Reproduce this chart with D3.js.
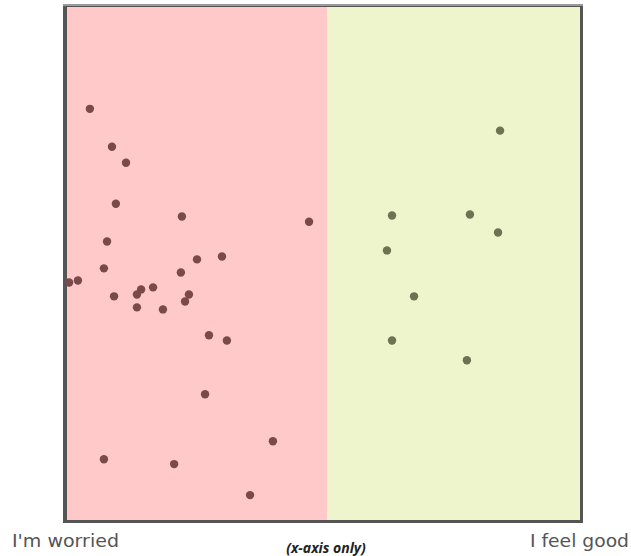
<!DOCTYPE html>
<html>
<head>
<meta charset="utf-8">
<script src="https://cdn.jsdelivr.net/npm/d3@7"></script>
<style>
  html, body { margin: 0; padding: 0; background: #fff; }
  svg { display: block; }
</style>
</head>
<body>
<svg id="chart" width="631" height="556"></svg>
<script>
// Data: x from -100 (worried) to 100 (feel good), y from -100 to 100
const worriedX = [-91.2, -82.7, -77.3, -81.2, -55.8, -6.9, -84.6, -50, -40.4, -85.8, -56.2, -99.2, -95.8, -81.9, -73.1, -71.5, -66.9, -73.1, -63.1, -53.1, -54.6, -45.4, -38.5, -46.9, -20.8, -85.8, -58.8, -29.6];
const worriedY = [60.3, 45.5, 39.3, 23.3, 18.3, 16.3, 8.6, 1.6, 2.7, -1.9, -3.5, -7.4, -6.6, -12.8, -12.1, -10.1, -9.3, -17.1, -17.9, -12.1, -14.8, -28.0, -30.0, -51.0, -69.3, -76.3, -78.2, -90.3];
const goodX = [68.4, 25.7, 56.5, 67.6, 23.7, 34.4, 25.7, 55.3];
const goodY = [51.8, 18.7, 19.1, 12.1, 5.1, -12.8, -30.0, -37.7];
const xLabels = ["I'm worried", "I feel good"];
const note = "(x-axis only)";

const svg = d3.select("#chart");
const pLeft = 67, pRight = 580, pTop = 7, pBottom = 520;
const x = d3.scaleLinear().domain([-100, 0, 100]).range([pLeft, 327, pRight]);
const y = d3.scaleLinear().domain([-100, 100]).range([pBottom, pTop]);

// Frame
svg.append("rect").attr("x", 63).attr("y", 4).attr("width", 520).attr("height", 519).attr("fill", "#555");
svg.append("rect").attr("x", 63).attr("y", 4).attr("width", 520).attr("height", 2).attr("fill", "#9a9a9a");

// Backgrounds
svg.append("rect").attr("x", x(-100)).attr("y", y(100)).attr("width", x(0) - x(-100)).attr("height", y(-100) - y(100)).attr("fill", "#ffc9c9");
svg.append("rect").attr("x", x(0)).attr("y", y(100)).attr("width", x(100) - x(0)).attr("height", y(-100) - y(100)).attr("fill", "#eef5cc");

const worried = worriedX.map((v, i) => [v, worriedY[i]]);
const good = goodX.map((v, i) => [v, goodY[i]]);

svg.append("g").selectAll("circle").data(worried).join("circle")
  .attr("cx", d => x(d[0])).attr("cy", d => y(d[1])).attr("r", 4.2).attr("fill", "#7a4a4a");
svg.append("g").selectAll("circle").data(good).join("circle")
  .attr("cx", d => x(d[0])).attr("cy", d => y(d[1])).attr("r", 4.2).attr("fill", "#6b7352");

svg.append("text").attr("x", 12).attr("y", 547).attr("fill", "#555")
  .attr("textLength", 107).attr("lengthAdjust", "spacingAndGlyphs")
  .style("font-family", "'DejaVu Sans', sans-serif").style("font-size", "18px").text(xLabels[0]);
svg.append("text").attr("x", 530).attr("y", 547).attr("fill", "#555")
  .attr("textLength", 99).attr("lengthAdjust", "spacingAndGlyphs")
  .style("font-family", "'DejaVu Sans', sans-serif").style("font-size", "18px").text(xLabels[1]);
svg.append("text").attr("x", 326).attr("y", 553).attr("text-anchor", "middle").attr("fill", "#222")
  .style("font-family", "'Open Sans', sans-serif").style("font-size", "14px").style("font-style", "italic").style("font-weight", "bold").text(note);
</script>
</body>
</html>
